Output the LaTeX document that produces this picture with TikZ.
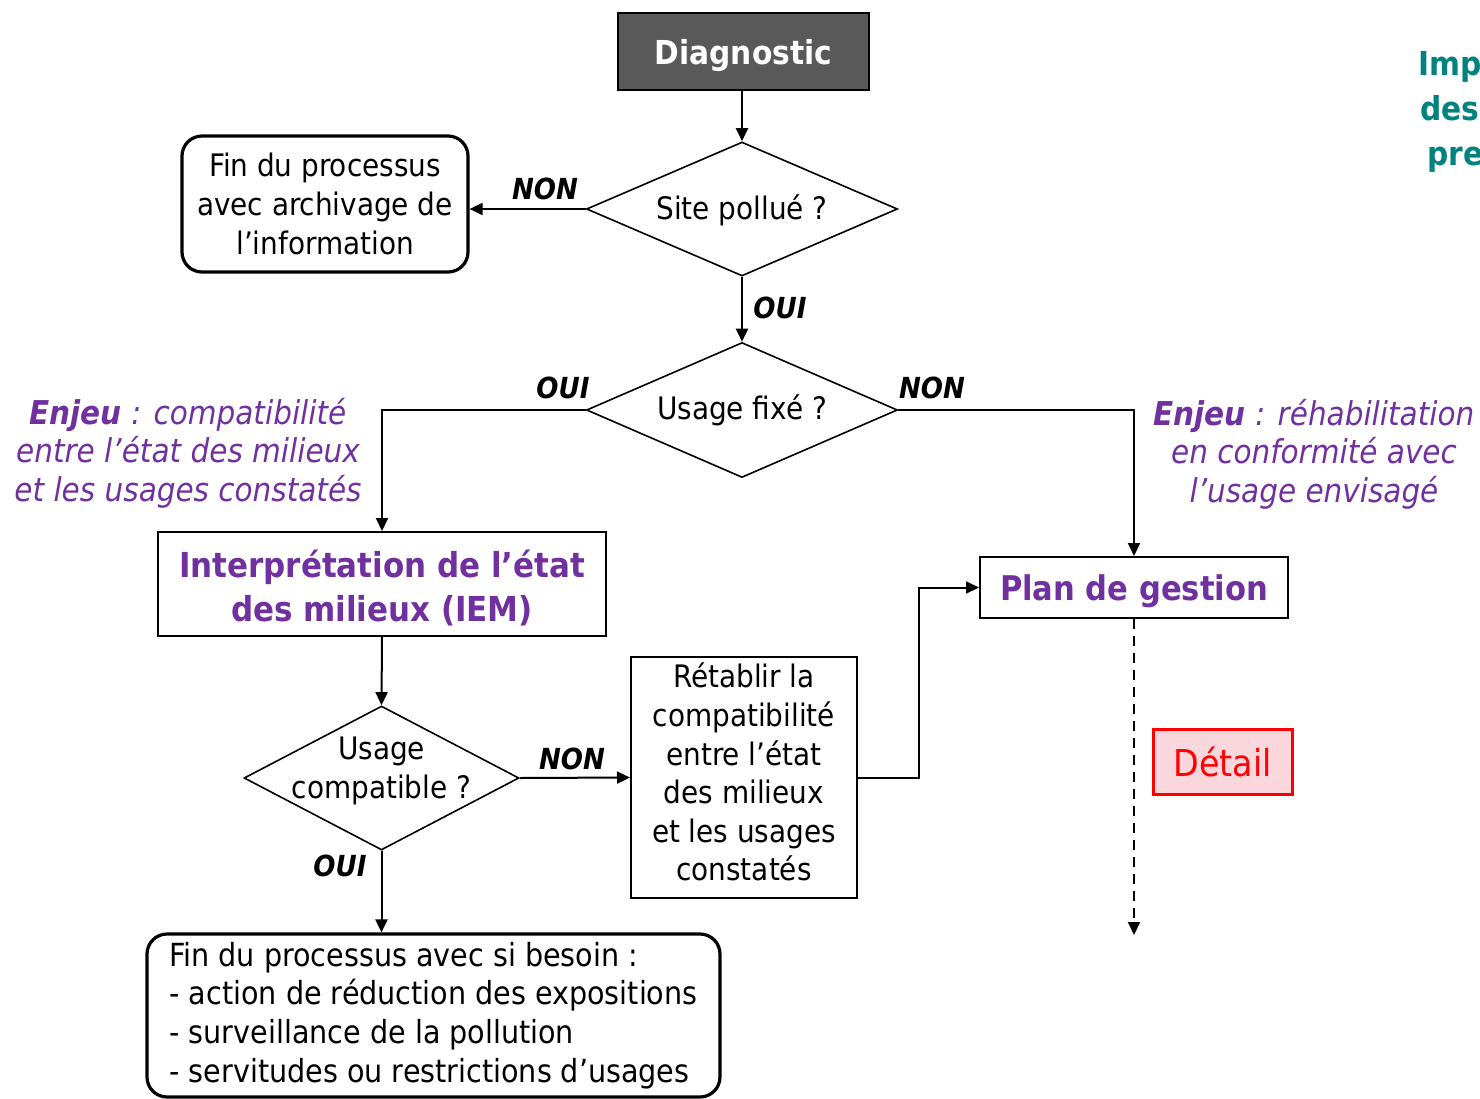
\documentclass[tikz,border=0pt]{standalone}
\usepackage{fontspec}
\setmainfont{DejaVu Sans Condensed}
\usetikzlibrary{shapes.geometric,arrows.meta}
\definecolor{purp}{HTML}{7030A0}
\definecolor{diaggray}{HTML}{595959}
\definecolor{teal2}{HTML}{00827F}
\definecolor{pinkfill}{HTML}{FAD7DC}
\begin{document}
\begin{tikzpicture}[x=0.5pt,y=-0.5pt,
  body/.style={font=\fontsize{15.5}{19.3}\selectfont, align=center, inner sep=0pt},
  boxsq/.style={draw, line width=1pt, body},
  boxrnd/.style={draw, line width=1.6pt, rounded corners=10pt, body},
  dia/.style={draw, diamond, line width=0.8pt, body},
  lab/.style={font=\fontsize{14.5}{17}\selectfont\bfseries\itshape, inner sep=0pt},
  enjeu/.style={font=\fontsize{16.4}{19.3}\selectfont\itshape, text=purp, align=center, inner sep=0pt},
  conn/.style={line width=1pt, -{Triangle[length=6.5pt,width=6pt]}},
  plain/.style={line width=1pt}
]
\useasboundingbox (0,0) rectangle (1480,1099);

% nodes
\node[draw=black, fill=diaggray, line width=1pt, minimum width=125.5pt, minimum height=38.5pt,
      text=white, font=\fontsize{16.5}{20}\selectfont\bfseries, inner sep=0pt, text depth=0pt] (diag) at (743.5,51.5) {Diagnostic};
\node[dia, aspect=2.32, minimum width=155.5pt, minimum height=67pt, text depth=1.5pt] (site) at (742,209) {Site pollué ?};
\node[boxrnd, minimum width=143pt, minimum height=68pt] (fin1) at (325,204) {Fin du processus\\avec archivage de\\l’information};
\node[dia, aspect=2.32, minimum width=155.5pt, minimum height=67.5pt] (usage) at (742,410) {Usage fixé ?};
\node[boxsq, minimum width=224pt, minimum height=52pt, text=purp,
      font=\fontsize{17.2}{22}\selectfont\bfseries] (iem) at (382,584) {\rule{0pt}{17.5pt}Interprétation de l’état\\des milieux (IEM)};
\node[dia, aspect=1.91, minimum width=137.5pt, minimum height=72pt] (compat) at (381.5,778) {};
\node[body] (compatT) at (381.5,771) {Usage\\compatible ?};
\node[boxsq, minimum width=113pt, minimum height=120.5pt, text depth=5.5pt] (retab) at (744,777.5)
  {Rétablir la\\compatibilité\\entre l’état\\des milieux\\et les usages\\constatés};
\node[boxsq, minimum width=154pt, minimum height=30.5pt, text=purp, text depth=0pt,
      font=\fontsize{17}{21}\selectfont\bfseries] (plan) at (1134,587.5) {Plan de gestion};
\node[draw=red, fill=pinkfill, line width=1.5pt, minimum width=69.5pt, minimum height=32.5pt,
      text=red, font=\fontsize{18.5}{22}\selectfont, inner sep=0pt] (detail) at (1222.5,761.5) {Détail};
\node[boxrnd, minimum width=286.5pt, minimum height=81.5pt, align=left,
      font=\fontsize{15.9}{19.3}\selectfont] (fin2) at (433.5,1015.5)
  {Fin du processus avec si besoin :\\- action de réduction des expositions\\- surveillance de la pollution\\- servitudes ou restrictions d’usages};

% enjeu texts
\node[enjeu] (enjL) at (188,453) {\textbf{Enjeu} : compatibilité\\entre l’état des milieux\\et les usages constatés};
\node[enjeu] (enjR) at (1314,454) {\textbf{Enjeu} : réhabilitation\\en conformité avec\\l’usage envisagé};

% teal clipped title
\begin{scope}[font=\fontsize{16.5}{20}\selectfont\bfseries, text=teal2]
\node[anchor=base west, inner sep=0pt] (t1) at (1418,75) {Imp};
\node[anchor=base west, inner sep=0pt] (t2) at (1420,120) {des};
\node[anchor=base west, inner sep=0pt] (t3) at (1427,165) {pre};
\end{scope}

% connectors
\draw[conn] (diag.south -| site.north) -- (site.north);
\draw[conn] (site.west) -- (site.west -| fin1.east);
\draw[conn] (site.south) -- (usage.north);
\draw[conn] (usage.west) -| (iem.north);
\draw[conn] (usage.east) -| (plan.north);
\draw[conn] (iem.south) -- (compat.north);
\draw[conn] (compat.east) -- (retab.west);
\draw[conn] (retab.east) -- ++(61,0) |- (plan.west);
\draw[conn] (compat.south) -- (fin2.north -| compat.south);
\coordinate (dashend) at (1134,935);
\draw[line width=1pt, dash pattern=on 5pt off 3.5pt, -{Triangle[length=6.5pt,width=6pt]}] (plan.south) -- (dashend);

% labels
\node[lab] (l1) at (545,189) {NON};
\node[lab, anchor=west] (l2) at (753,308) {OUI};
\node[lab] (l3) at (563,388) {OUI};
\node[lab] (l4) at (932,388) {NON};
\node[lab] (l5) at (572,759) {NON};
\node[lab] (l6) at (340,866) {OUI};
\end{tikzpicture}
\end{document}
